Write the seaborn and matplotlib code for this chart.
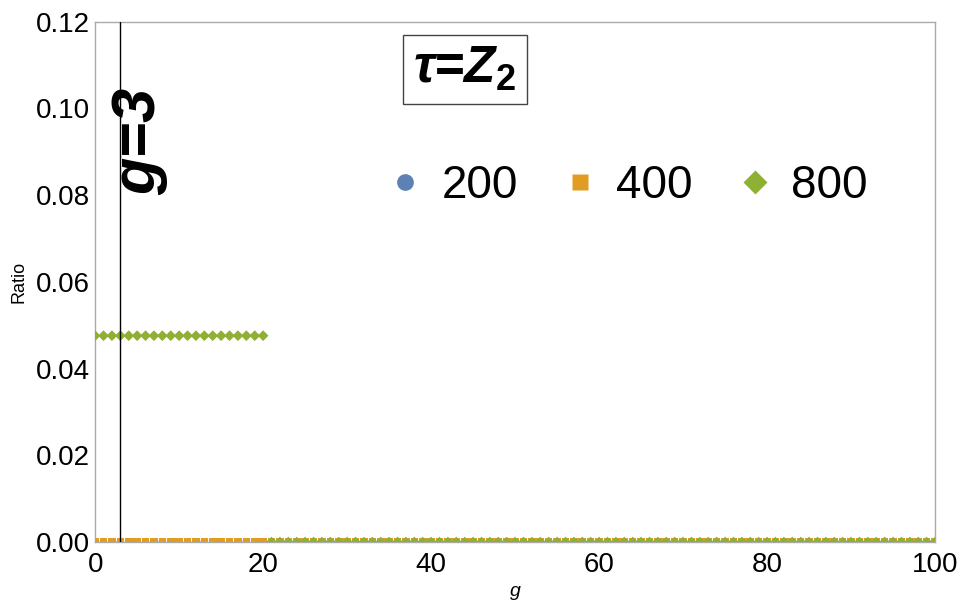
import numpy as np
import pandas as pd
import matplotlib.pyplot as plt
import seaborn as sns
from matplotlib.ticker import MultipleLocator

# genus values and ratio per N
g_vals = list(range(0, 101))
ratio_200 = [0.0] * 101
ratio_400 = [0.0] * 101
ratio_800 = [0.0476] * 21 + [0.0] * 80
series_names = ["200", "400", "800"]
colors = ["#5E81B5", "#E19C24", "#8FB032"]
markers = ["o", "s", "D"]
g_line = 3

df = pd.concat([
    pd.DataFrame({"g": g_vals, "Ratio": r, "N": n})
    for r, n in zip([ratio_200, ratio_400, ratio_800], series_names)
])

sns.set_style("white")
plt.rcParams['font.family'] = ['Liberation Sans', 'DejaVu Sans']
plt.rcParams['mathtext.fontset'] = 'custom'
plt.rcParams['mathtext.rm'] = 'Liberation Sans:bold'
plt.rcParams['mathtext.bf'] = 'Liberation Sans:bold'
plt.rcParams['text.color'] = 'black'

fig, ax = plt.subplots(figsize=(9.61, 6.05), dpi=100)
fig.subplots_adjust(left=0.099, right=0.973, top=0.964, bottom=0.104)

sns.scatterplot(data=df, x="g", y="Ratio", hue="N", style="N",
                palette=dict(zip(series_names, colors)),
                markers=dict(zip(series_names, markers)),
                s=30, edgecolor="none", ax=ax, zorder=3)

ax.axvline(g_line, color="black", lw=1, zorder=4)

ax.set_xlim(0, 100)
ax.set_ylim(0, 0.12)
ax.xaxis.set_major_locator(MultipleLocator(20))
ax.xaxis.set_minor_locator(MultipleLocator(5))
ax.yaxis.set_major_locator(MultipleLocator(0.02))
ax.yaxis.set_minor_locator(MultipleLocator(0.005))
ax.yaxis.set_major_formatter(plt.FuncFormatter(lambda v, p: f"{v:.2f}"))
ax.tick_params(axis="both", which="both", direction="in", color="#333333",
               labelsize=20, labelcolor="black", zorder=5)
ax.tick_params(axis="x", pad=7)
ax.tick_params(axis="y", pad=4)
ax.tick_params(which="major", length=4, width=1)
ax.tick_params(which="minor", length=2, width=1)
for s in ax.spines.values():
    s.set_color("#aaaaaa")
    s.set_linewidth(1)

ax.set_xlabel("g", fontsize=14, style="italic", labelpad=4, color="black")
ax.set_ylabel("Ratio", fontsize=13, labelpad=6, color="black")

ax.text(5.3, 0.0925, "g=3", rotation=90, fontsize=44, fontweight="bold",
        style="italic", ha="center", va="center")
ax.text(44, 0.109, r"τ=Z$_{2}$", fontsize=37, fontweight="bold",
        style="italic", ha="center", va="center",
        bbox=dict(boxstyle="square,pad=0.2", fc="white", ec="#444444", lw=1))

leg = ax.legend(loc="center", bbox_to_anchor=(0.628, 0.685), ncol=3,
                frameon=False, fontsize=33, markerscale=2.2,
                handletextpad=0.2, handlelength=1.2, columnspacing=0.75,
                title=None)

fig.savefig("out.png", dpi=100)
